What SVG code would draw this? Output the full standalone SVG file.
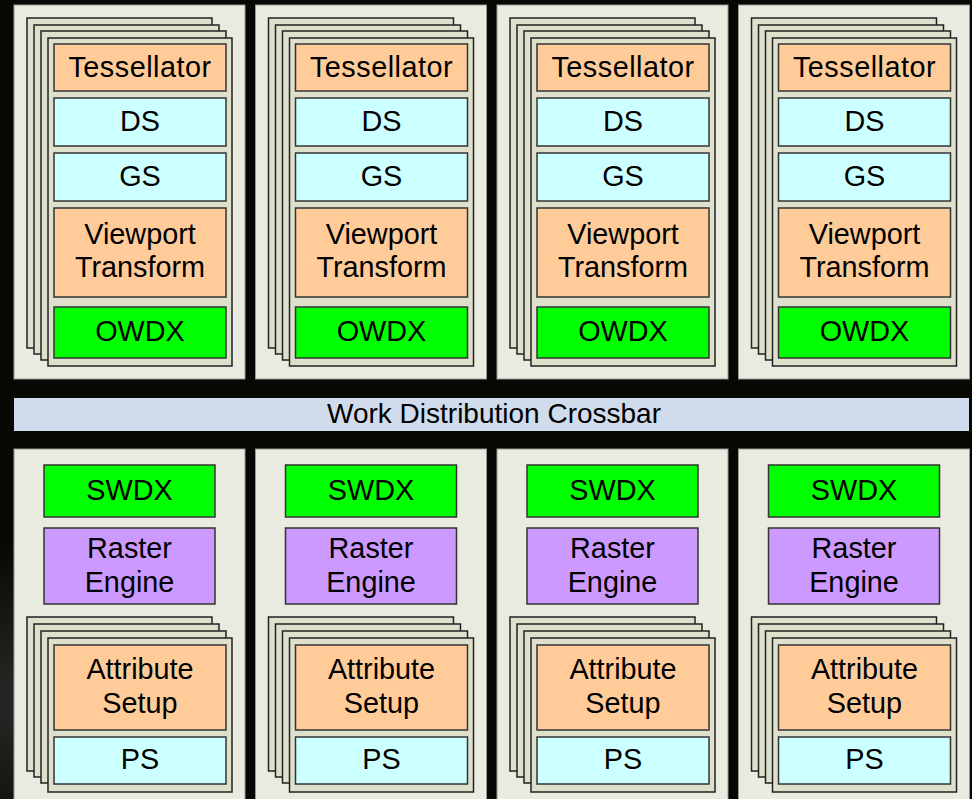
<svg xmlns="http://www.w3.org/2000/svg" width="972" height="799" viewBox="0 0 972 799">
<defs>
<radialGradient id="glow" cx="30" cy="700" r="160" gradientUnits="userSpaceOnUse">
<stop offset="0" stop-color="#2a2a2a"/>
<stop offset="1" stop-color="#070704"/>
</radialGradient>
<style>
.panel{fill:#EAEBE0;stroke:#9a9a90;stroke-width:1}
.sheet{fill:#DEE0CC;stroke:#222;stroke-width:1.5}
.box{stroke:#333;stroke-width:1.5}
.orange{fill:#FFCC99}
.cyan{fill:#CCFFFF}
.green{fill:#00FF00}
.purple{fill:#CC99FF}
.bar{fill:#D0DCEC}
text{font-family:"Liberation Sans",Arial,sans-serif;font-size:28.8px;fill:#000;text-anchor:middle}
#crossbar text{font-size:28px}
.wide{letter-spacing:0.5px}
</style>
</defs>
<rect x="0" y="0" width="972" height="799" fill="#070704"/>
<rect x="0" y="450" width="260" height="349" fill="url(#glow)"/>

<g id="connectors"></g>

<g id="top-1">
<rect class="panel" x="14" y="5" width="231" height="374"/>
<rect class="sheet" x="27" y="18" width="185" height="330"/>
<rect class="sheet" x="34" y="25" width="185" height="329"/>
<rect class="sheet" x="41" y="31" width="185" height="329"/>
<rect class="sheet" x="48" y="38" width="184" height="328"/>
<g id="tess-1"><rect class="box orange" x="54" y="44" width="172" height="47"/><text class="wide" x="140" y="77">Tessellator</text></g>
<g id="ds-1"><rect class="box cyan" x="54" y="98" width="172" height="48"/><text x="140" y="131">DS</text></g>
<g id="gs-1"><rect class="box cyan" x="54" y="153" width="172" height="48"/><text x="140" y="186">GS</text></g>
<g id="vp-1"><rect class="box orange" x="54" y="208" width="172" height="89"/><text x="140" y="244">Viewport</text><text x="140" y="277">Transform</text></g>
<g id="owdx-1"><rect class="box green" x="54" y="307" width="172" height="51"/><text x="140" y="341">OWDX</text></g>
</g>

<g id="top-2" transform="translate(241.5,0)">
<rect class="panel" x="14" y="5" width="231" height="374"/>
<rect class="sheet" x="27" y="18" width="185" height="330"/>
<rect class="sheet" x="34" y="25" width="185" height="329"/>
<rect class="sheet" x="41" y="31" width="185" height="329"/>
<rect class="sheet" x="48" y="38" width="184" height="328"/>
<g id="tess-2"><rect class="box orange" x="54" y="44" width="172" height="47"/><text class="wide" x="140" y="77">Tessellator</text></g>
<g id="ds-2"><rect class="box cyan" x="54" y="98" width="172" height="48"/><text x="140" y="131">DS</text></g>
<g id="gs-2"><rect class="box cyan" x="54" y="153" width="172" height="48"/><text x="140" y="186">GS</text></g>
<g id="vp-2"><rect class="box orange" x="54" y="208" width="172" height="89"/><text x="140" y="244">Viewport</text><text x="140" y="277">Transform</text></g>
<g id="owdx-2"><rect class="box green" x="54" y="307" width="172" height="51"/><text x="140" y="341">OWDX</text></g>
</g>

<g id="top-3" transform="translate(483,0)">
<rect class="panel" x="14" y="5" width="231" height="374"/>
<rect class="sheet" x="27" y="18" width="185" height="330"/>
<rect class="sheet" x="34" y="25" width="185" height="329"/>
<rect class="sheet" x="41" y="31" width="185" height="329"/>
<rect class="sheet" x="48" y="38" width="184" height="328"/>
<g id="tess-3"><rect class="box orange" x="54" y="44" width="172" height="47"/><text class="wide" x="140" y="77">Tessellator</text></g>
<g id="ds-3"><rect class="box cyan" x="54" y="98" width="172" height="48"/><text x="140" y="131">DS</text></g>
<g id="gs-3"><rect class="box cyan" x="54" y="153" width="172" height="48"/><text x="140" y="186">GS</text></g>
<g id="vp-3"><rect class="box orange" x="54" y="208" width="172" height="89"/><text x="140" y="244">Viewport</text><text x="140" y="277">Transform</text></g>
<g id="owdx-3"><rect class="box green" x="54" y="307" width="172" height="51"/><text x="140" y="341">OWDX</text></g>
</g>

<g id="top-4" transform="translate(724.5,0)">
<rect class="panel" x="14" y="5" width="231" height="374"/>
<rect class="sheet" x="27" y="18" width="185" height="330"/>
<rect class="sheet" x="34" y="25" width="185" height="329"/>
<rect class="sheet" x="41" y="31" width="185" height="329"/>
<rect class="sheet" x="48" y="38" width="184" height="328"/>
<g id="tess-4"><rect class="box orange" x="54" y="44" width="172" height="47"/><text class="wide" x="140" y="77">Tessellator</text></g>
<g id="ds-4"><rect class="box cyan" x="54" y="98" width="172" height="48"/><text x="140" y="131">DS</text></g>
<g id="gs-4"><rect class="box cyan" x="54" y="153" width="172" height="48"/><text x="140" y="186">GS</text></g>
<g id="vp-4"><rect class="box orange" x="54" y="208" width="172" height="89"/><text x="140" y="244">Viewport</text><text x="140" y="277">Transform</text></g>
<g id="owdx-4"><rect class="box green" x="54" y="307" width="172" height="51"/><text x="140" y="341">OWDX</text></g>
</g>

<g id="crossbar">
<rect class="bar" x="14" y="398" width="955" height="33"/>
<text x="494" y="423">Work Distribution Crossbar</text>
</g>

<g id="bottom-1">
<rect class="panel" x="14" y="449" width="231" height="360"/>
<g id="swdx-1"><rect class="box green" x="44" y="465" width="171" height="52"/><text x="129.5" y="500">SWDX</text></g>
<g id="raster-1"><rect class="box purple" x="44" y="528" width="171" height="76"/><text x="129.5" y="558">Raster</text><text x="129.5" y="592">Engine</text></g>
<rect class="sheet" x="27" y="617" width="185" height="154"/>
<rect class="sheet" x="34" y="624" width="185" height="153"/>
<rect class="sheet" x="41" y="631" width="185" height="152"/>
<rect class="sheet" x="48" y="638" width="184" height="154"/>
<g id="attr-1"><rect class="box orange" x="54" y="645" width="172" height="85"/><text x="140" y="679">Attribute</text><text x="140" y="713">Setup</text></g>
<g id="ps-1"><rect class="box cyan" x="54" y="737" width="172" height="47"/><text x="140" y="769">PS</text></g>
</g>

<g id="bottom-2" transform="translate(241.5,0)">
<rect class="panel" x="14" y="449" width="231" height="360"/>
<g id="swdx-2"><rect class="box green" x="44" y="465" width="171" height="52"/><text x="129.5" y="500">SWDX</text></g>
<g id="raster-2"><rect class="box purple" x="44" y="528" width="171" height="76"/><text x="129.5" y="558">Raster</text><text x="129.5" y="592">Engine</text></g>
<rect class="sheet" x="27" y="617" width="185" height="154"/>
<rect class="sheet" x="34" y="624" width="185" height="153"/>
<rect class="sheet" x="41" y="631" width="185" height="152"/>
<rect class="sheet" x="48" y="638" width="184" height="154"/>
<g id="attr-2"><rect class="box orange" x="54" y="645" width="172" height="85"/><text x="140" y="679">Attribute</text><text x="140" y="713">Setup</text></g>
<g id="ps-2"><rect class="box cyan" x="54" y="737" width="172" height="47"/><text x="140" y="769">PS</text></g>
</g>

<g id="bottom-3" transform="translate(483,0)">
<rect class="panel" x="14" y="449" width="231" height="360"/>
<g id="swdx-3"><rect class="box green" x="44" y="465" width="171" height="52"/><text x="129.5" y="500">SWDX</text></g>
<g id="raster-3"><rect class="box purple" x="44" y="528" width="171" height="76"/><text x="129.5" y="558">Raster</text><text x="129.5" y="592">Engine</text></g>
<rect class="sheet" x="27" y="617" width="185" height="154"/>
<rect class="sheet" x="34" y="624" width="185" height="153"/>
<rect class="sheet" x="41" y="631" width="185" height="152"/>
<rect class="sheet" x="48" y="638" width="184" height="154"/>
<g id="attr-3"><rect class="box orange" x="54" y="645" width="172" height="85"/><text x="140" y="679">Attribute</text><text x="140" y="713">Setup</text></g>
<g id="ps-3"><rect class="box cyan" x="54" y="737" width="172" height="47"/><text x="140" y="769">PS</text></g>
</g>

<g id="bottom-4" transform="translate(724.5,0)">
<rect class="panel" x="14" y="449" width="231" height="360"/>
<g id="swdx-4"><rect class="box green" x="44" y="465" width="171" height="52"/><text x="129.5" y="500">SWDX</text></g>
<g id="raster-4"><rect class="box purple" x="44" y="528" width="171" height="76"/><text x="129.5" y="558">Raster</text><text x="129.5" y="592">Engine</text></g>
<rect class="sheet" x="27" y="617" width="185" height="154"/>
<rect class="sheet" x="34" y="624" width="185" height="153"/>
<rect class="sheet" x="41" y="631" width="185" height="152"/>
<rect class="sheet" x="48" y="638" width="184" height="154"/>
<g id="attr-4"><rect class="box orange" x="54" y="645" width="172" height="85"/><text x="140" y="679">Attribute</text><text x="140" y="713">Setup</text></g>
<g id="ps-4"><rect class="box cyan" x="54" y="737" width="172" height="47"/><text x="140" y="769">PS</text></g>
</g>
</svg>
